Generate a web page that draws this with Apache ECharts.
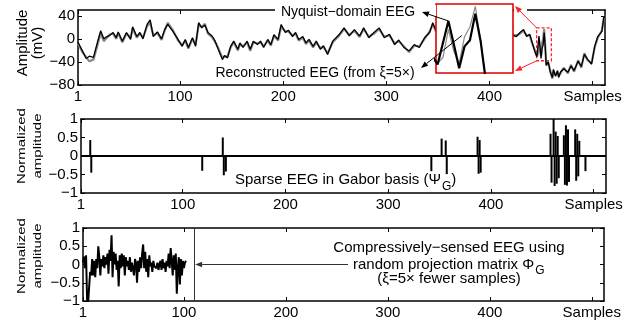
<!DOCTYPE html>
<html><head><meta charset="utf-8">
<script src="https://cdn.jsdelivr.net/npm/echarts@6/dist/echarts.min.js"></script>
<style>html,body{margin:0;padding:0;background:#fff}#c{width:631px;height:320px}</style>
</head><body><div id="c"></div>
<script>
// ---------- DATA ----------
const xTickValues = [1, 100, 200, 300, 400, 500];
const ampTickValues = [-80, -40, 0, 40];
const normTickValues = [-1, -0.5, 0, 0.5, 1];

// Top panel: EEG samples (positions) and values in mV
const eegSamples = [
  1, 5, 9, 12, 16, 20, 23, 26, 29, 32,
  35, 38, 40, 44, 48, 52, 54, 58, 61, 64,
  68, 71, 74, 78, 82, 85, 88, 93, 98, 102,
  105, 108, 112, 115, 118, 121, 124, 127, 131, 134,
  137, 141, 143, 146, 149, 152, 156, 158, 161, 165,
  168, 171, 175, 178, 181, 185, 188, 191, 195, 198,
  202, 205, 209, 212, 215, 219, 222, 225, 229, 232,
  236, 239, 243, 248, 254, 259, 264, 269, 274, 278,
  283, 288, 293, 298, 303, 308, 312, 317, 322, 327,
  332, 337, 342, 345, 348, 360, 375, 390, 405, 420,
  426, 429, 433, 436, 439, 441, 444, 445, 446, 447,
  448, 449, 450, 451, 452, 453, 454, 455, 457, 459,
  461, 462, 464, 466, 467, 469, 472, 476, 479, 482,
  486, 489, 492, 495, 499, 502, 505, 509, 511, 512
];
const nyquistEEG = [
  -6, -20, -34, -30, -32, -5, 14, 0, 4, 6,
  11, 2, 12, -4, 11, -1, 21, 4, 11, 0,
  25, 33, 4, 12, 0, 16, 25, 13, -1, -13,
  -1, -15, 2, -13, 28, 19, 24, 11, 5, -4,
  -18, -36, -29, -33, -13, -4, -18, -7, -15, -4,
  -18, -4, -10, -4, -15, -1, -10, 7, -1, 25,
  11, 15, 4, 11, -1, 4, -7, -1, -13, -4,
  -18, -12, -27, -4, 7, 19, 5, 16, 5, 19,
  2, 11, 19, 2, 8, -10, -2, -15, -21, -10,
  -15, 2, 11, 28, 15, 5, -5, 10, 0, 8,
  4, 10, 16, 4, 8, -4, -22, -24, -31, -13,
  5, -14, -34, -16, -11, 11, -12, -46, -40, -58,
  -67, -53, -65, -55, -67, -57, -52, -58, -47, -55,
  -39, -48, -27, -35, -44, -13, 4, 13, 39, 37
];
const reconstructedEEG = [
  -8, -22, -32, -39, -36, -10, 10, -4, 2, 8,
  9, 0, 10, -6, 9, 2, 18, 2, 9, 2,
  22, 28, 6, 10, -2, 14, 28, 15, -3, -11,
  -3, -17, 0, -10, 24, 21, 26, 9, 3, -6,
  -16, -33, -31, -30, -15, -6, -20, -9, -13, -6,
  -21, -6, -8, -6, -13, -3, -12, 5, -3, 21,
  13, 13, 6, 9, -3, 2, -9, -3, -15, -6,
  -16, -14, -25, -6, 5, 17, 7, 14, 3, 17,
  4, 9, 17, 4, 6, -8, -4, -13, -23, -12,
  -13, 0, 13, 25, 13, 5, -5, 10, 0, 8,
  6, 8, 14, 6, 6, -6, -20, -26, -30, -25,
  -2, -20, -30, -8, 0, 17, -12, -45, -42, -56,
  -69, -55, -63, -57, -65, -59, -50, -60, -45, -57,
  -37, -50, -25, -37, -42, -15, 2, 15, 37, 39
];

// Middle panel: sparse Gabor coefficients
const sparseSamples = [10, 11, 119, 139, 140, 142, 342, 352, 356, 357,
  387, 388, 389, 390, 458, 459, 461, 462, 463, 464,
  465, 466, 471, 472, 473, 474, 475, 476, 482, 483,
  484, 485, 486, 492];
const sparseValues = [0.43, -0.45, -0.40, 0.50, -0.52, -0.42, -0.41, 0.47, 0.42, -0.49,
  0.52, -0.48, 0.43, -0.45, 0.60, -0.72, 1.0, -0.81, 0.66, -0.75,
  0.54, -0.60, 0.56, -0.78, 0.83, -0.80, 0.72, -0.70, 0.72, -0.67,
  0.60, -0.55, 0.41, -0.41];

// Bottom panel: compressively-sensed samples (1..102)
const compressedValues = [
  0.05, 0.22, -0.1, 0.25, -0.95, -1.05, -1.05, -0.2, -0.3, 0.15,
  -0.3, 0.1, -0.35, 0.15, -0.1, 0.5, 0.2, -0.3, 0.15, -0.05,
  0.25, -0.1, 0.2, 0.0, 0.3, -0.25, 0.4, 0.1, 0.8, -0.35,
  0.35, 0.0, 0.3, -0.15, 0.1, -0.6, 0.25, -0.1, 0.3, -0.05,
  0.25, -0.3, 0.2, -0.05, 0.1, -0.15, 0.2, -0.2, 0.05, 0.1,
  -0.3, 0.15, 0.05, -0.5, 0.1, -0.2, 0.2, -0.1, 0.3, 0.55,
  -0.1, 0.35, -0.2, 0.15, -0.35, 0.25, -0.05, 0.05, -0.2, 0.1,
  -0.05, 0.0, -0.1, 0.05, -0.15, 0.0, 0.1, -0.15, 0.15, -0.1,
  0.05, -0.2, 0.1, -0.05, 0.3, -0.1, 0.45, 0.1, -0.3, 0.25,
  -0.15, 0.3, -0.8, -0.1, 0.2, -0.55, 0.15, -0.3, 0.1, -0.1,
  0.05, 0.1
];
const compressedEnd = 110;
const zoomWindow = { x: [445.7, 460], y: [-38, 19] };

// ---------- CHART ----------
const FONT = '"Liberation Sans", Arial, Helvetica, sans-serif';
const chart = echarts.init(document.getElementById('c'), null, { renderer: 'canvas' });
const minus = v => String(v).replace('-', '\u2212');

const G = [
  { left: 78, top: 10, width: 527, height: 75 },
  { left: 81, top: 119, width: 525, height: 74 },
  { left: 83, top: 228, width: 521, height: 74 },
  { left: 436, top: 4, width: 77, height: 69 }
];
const lineSt = { color: '#000', width: 1.5 };
function xAx(gi, pos, labels) {
  return {
    type: 'value', gridIndex: gi, min: 1, max: 512, position: pos,
    axisLine: { show: true, onZero: false, lineStyle: lineSt },
    axisTick: { show: true, inside: true, length: 4, customValues: xTickValues, lineStyle: { color: '#000', width: 1 } },
    axisLabel: { show: labels, customValues: xTickValues, formatter: v => v === 500 ? 'Samples' : String(v),
      fontSize: 15, color: '#000', fontFamily: FONT, margin: 4 },
    splitLine: { show: false }
  };
}
function yAx(gi, pos, labels, min, max, ticks) {
  return {
    type: 'value', gridIndex: gi, min: min, max: max, position: pos,
    axisLine: { show: true, onZero: false, lineStyle: lineSt },
    axisTick: { show: true, inside: true, length: 4, customValues: ticks, lineStyle: { color: '#000', width: 1 } },
    axisLabel: { show: labels, customValues: ticks, formatter: minus, fontSize: 15, color: '#000', fontFamily: FONT, margin: 3 },
    splitLine: { show: false }
  };
}
const xAxis = [
  xAx(0, 'bottom', true), xAx(0, 'top', false),
  xAx(1, 'bottom', true), xAx(1, 'top', false),
  xAx(2, 'bottom', true), xAx(2, 'top', false),
  { type: 'value', gridIndex: 3, min: zoomWindow.x[0], max: zoomWindow.x[1], show: false }
];
const yAxis = [
  yAx(0, 'left', true, -80, 50, ampTickValues), yAx(0, 'right', false, -80, 50, ampTickValues),
  yAx(1, 'left', true, -1, 1, normTickValues), yAx(1, 'right', false, -1, 1, normTickValues),
  yAx(2, 'left', true, -1, 1, normTickValues), yAx(2, 'right', false, -1, 1, normTickValues),
  { type: 'value', gridIndex: 3, min: zoomWindow.y[0], max: zoomWindow.y[1], show: false }
];

const reconData = eegSamples.map((s, i) => [s, reconstructedEEG[i]]);
const nyqData = eegSamples.map((s, i) => [s, nyquistEEG[i]]);
const sparseData = sparseSamples.map((s, i) => [s, sparseValues[i]]);
const csData = compressedValues.map((v, i) => [i + 1, v]);

chart.setOption({
  animation: false,
  backgroundColor: '#fff',
  grid: [
    Object.assign({ containLabel: false }, G[0]),
    Object.assign({ containLabel: false }, G[1]),
    Object.assign({ containLabel: false }, G[2]),
    Object.assign({ containLabel: false, show: true, z: 10, backgroundColor: '#fff', borderColor: '#e00000', borderWidth: 1.6 }, G[3])
  ],
  xAxis, yAxis,
  series: [
    { type: 'line', xAxisIndex: 0, yAxisIndex: 0, data: reconData, symbol: 'none',
      lineStyle: { color: '#8a8a8a', width: 2.2 }, z: 2 },
    { type: 'line', xAxisIndex: 0, yAxisIndex: 0, data: nyqData, symbol: 'none',
      lineStyle: { color: '#000', width: 1.3 }, z: 3,
      markArea: { silent: true, label: { show: false },
        itemStyle: { color: 'rgba(0,0,0,0)', borderColor: '#ff2020', borderWidth: 1.3, borderType: [3, 2] },
        data: [[{ coord: [zoomWindow.x[0], zoomWindow.y[1]] }, { coord: [zoomWindow.x[1], zoomWindow.y[0]] }]] } },
    { type: 'line', xAxisIndex: 6, yAxisIndex: 6, data: reconData, symbol: 'none',
      lineStyle: { color: '#8a8a8a', width: 1.2 }, z: 12, clip: true },
    { type: 'line', xAxisIndex: 6, yAxisIndex: 6, data: nyqData, symbol: 'none',
      lineStyle: { color: '#000', width: 2.2 }, z: 13, clip: true },
    { type: 'bar', xAxisIndex: 2, yAxisIndex: 2, data: sparseData, barWidth: 2,
      itemStyle: { color: '#000' },
      markLine: { silent: true, symbol: 'none', label: { show: false },
        lineStyle: { color: '#000', width: 2, type: 'solid' }, data: [{ yAxis: 0 }] } },
    { type: 'line', xAxisIndex: 4, yAxisIndex: 4, data: csData, symbol: 'none',
      lineStyle: { color: '#000', width: 2 }, clip: true,
      markLine: { silent: true, symbol: 'none', label: { show: false },
        lineStyle: { color: '#333', width: 1, type: 'solid' }, data: [{ xAxis: compressedEnd }] } }
  ]
});

// ---------- ANNOTATIONS ----------
const ctx = document.createElement('canvas').getContext('2d');
function tw(t, size) { ctx.font = size + 'px ' + FONT; return ctx.measureText(t).width; }
function arrow(x1, y1, x2, y2, color, w) {
  const a = Math.atan2(y2 - y1, x2 - x1), L = 7, W = 2.8;
  const bx = x2 - L * Math.cos(a), by = y2 - L * Math.sin(a);
  const nx = -Math.sin(a), ny = Math.cos(a);
  return [
    { type: 'line', z: 100, shape: { x1, y1, x2: bx, y2: by }, style: { stroke: color, lineWidth: w } },
    { type: 'polygon', z: 100, shape: { points: [[x2, y2], [bx + nx * W, by + ny * W], [bx - nx * W, by - ny * W]] }, style: { fill: color } }
  ];
}
function txt(t, x, y, size, align, extra) {
  return Object.assign({ type: 'text', z: 101, x, y,
    style: { text: t, x: 0, y: 0, fontSize: size, fontFamily: FONT, fill: '#000', align: align || 'center', verticalAlign: 'middle' } }, extra || {});
}
function vtxt(t, x, y, size, s) {
  return { type: 'text', z: 101, x, y, rotation: Math.PI / 2, scaleY: s || 1,
    style: { text: t, x: 0, y: 0, fontSize: size, fontFamily: FONT, fill: '#000', align: 'center', verticalAlign: 'middle' } };
}
const P0 = p => chart.convertToPixel({ xAxisIndex: 0, yAxisIndex: 0 }, p);
const P3 = p => chart.convertToPixel({ xAxisIndex: 6, yAxisIndex: 6 }, p);
const P2 = p => chart.convertToPixel({ xAxisIndex: 4, yAxisIndex: 4 }, p);

const g = [];
// white patches over the top frame behind text
g.push({ type: 'rect', z: 50, shape: { x: 275, y: 5, width: 161, height: 12 }, style: { fill: '#fff' } });
g.push({ type: 'rect', z: 50, shape: { x: 514, y: 5, width: 13, height: 10 }, style: { fill: '#fff' } });
g.push(txt('Nyquist\u2212domain EEG', 348, 12, 14));
g.push(txt('Reconstructed EEG (from \u03BE=5\u00D7)', 315, 73, 14));
const pk = P3([448, 5]);
g.push(...arrow(pk[0], pk[1], 422, 12, '#000', 1));
const rp = P3([450.5, -7]);
g.push(...arrow(rp[0], rp[1], 421, 68, '#000', 1));
// red zoom arrows
const c1 = P0([zoomWindow.x[0], zoomWindow.y[1]]);
const c2 = P0([zoomWindow.x[0], zoomWindow.y[0]]);
const ix = G[3].left + G[3].width + 2;
g.push(...arrow(c1[0], c1[1], ix, G[3].top + 2, '#ff2020', 1));
g.push(...arrow(c2[0], c2[1], ix, G[3].top + G[3].height - 2, '#ff2020', 1));

// middle label
const s1 = 'Sparse EEG in Gabor basis (\u03A8';
const sx0 = 235;
const w1 = tw(s1, 15);
g.push(txt(s1, sx0, 180, 15, 'left'));
g.push(txt('G', sx0 + w1 + 1, 187, 12, 'left'));
g.push(txt(')', sx0 + w1 + 1 + tw('G', 12), 180, 15, 'left'));

// bottom labels
g.push(txt('Compressively\u2212sensed EEG using', 449, 248, 15));
const l2 = 'random projection matrix \u03A6';
g.push(txt(l2, 353, 265, 15, 'left'));
g.push(txt('G', 353 + tw(l2, 15) + 1, 271, 12, 'left'));
g.push(txt('(\u03BE=5\u00D7 fewer samples)', 449, 279, 15));
const ae = P2([compressedEnd + 1, 0]);
g.push(...arrow(348, ae[1], ae[0], ae[1], '#333', 1));

// y-axis titles
g.push(vtxt('Amplitude', 23, 43, 15));
g.push(vtxt('(mV)', 38, 43, 15));
g.push(vtxt('Normalized', 22, 146, 15, 0.73));
g.push(vtxt('amplitude', 38, 146, 15, 0.73));
g.push(vtxt('Normalized', 22, 256, 15, 0.73));
g.push(vtxt('amplitude', 38, 256, 15, 0.73));

chart.setOption({ graphic: { elements: g } });
</script>
</body></html>
